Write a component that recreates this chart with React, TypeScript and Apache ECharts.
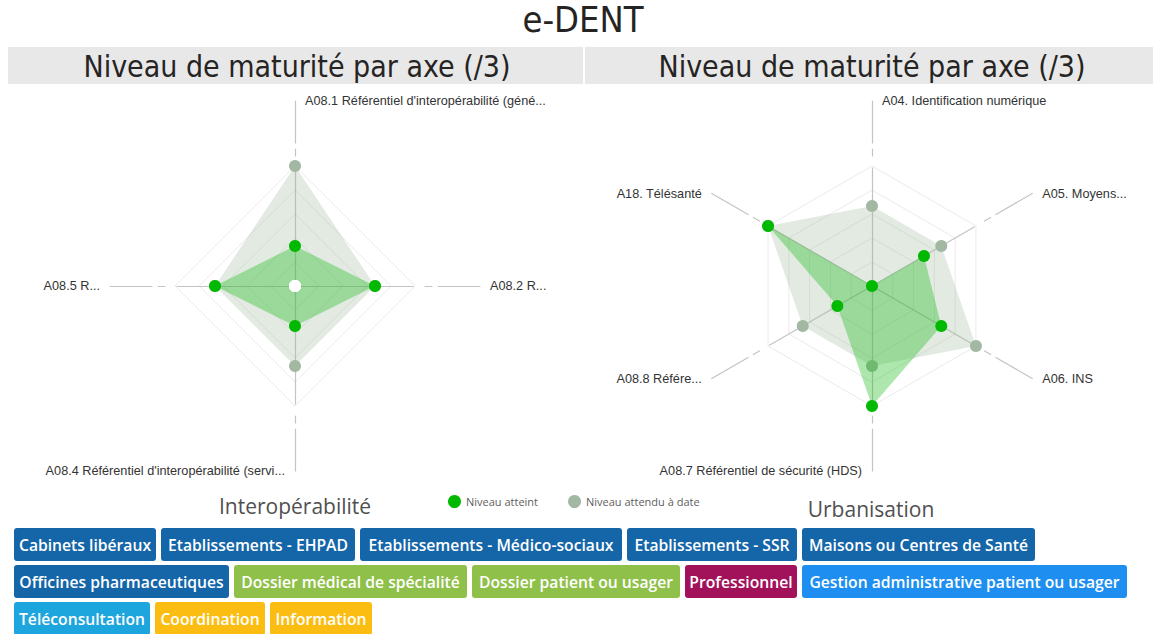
import React, { useEffect, useRef } from 'react';
import * as echarts from 'echarts';

// ---------- data ----------
const legendNames = ['Niveau atteint', 'Niveau attendu à date'];
const maxLevel = 3;

// Left radar (Interopérabilité) – indicators listed counter-clockwise from the top
const leftIndicators = [
  "A08.1 Référentiel d'interopérabilité (géné...",
  'A08.5 R...',
  "A08.4 Référentiel d'interopérabilité (servi...",
  'A08.2 R...',
];
const leftAtteint = [1, 2, 1, 2];
const leftAttendu = [3, 2, 2, 2];
const leftCentre = [0, 0, 0, 0];
const leftRightAligned = ['A08.5 R...', "A08.4 Référentiel d'interopérabilité (servi..."];

// Right radar (Urbanisation)
const rightIndicators = [
  'A04. Identification numérique',
  'A18. Télésanté',
  'A08.8 Référe...',
  'A08.7 Référentiel de sécurité (HDS)',
  'A06. INS',
  'A05. Moyens...',
];
const rightAtteint = [0, 3, 1, 3, 2, 1.5];
const rightAttendu = [2, 3, 2, 2, 3, 2];
const rightRightAligned = ['A18. Télésanté', 'A08.8 Référe...', 'A08.7 Référentiel de sécurité (HDS)'];

const mainTitle = 'e-DENT';
const panelTitle = 'Niveau de maturité par axe (/3)';
const leftCaption = 'Interopérabilité';
const rightCaption = 'Urbanisation';

const tagRows: [string, string][][] = [
  [
    ['Cabinets libéraux', 'structure'],
    ['Etablissements - EHPAD', 'structure'],
    ['Etablissements - Médico-sociaux', 'structure'],
    ['Etablissements - SSR', 'structure'],
    ['Maisons ou Centres de Santé', 'structure'],
  ],
  [
    ['Officines pharmaceutiques', 'structure'],
    ['Dossier médical de spécialité', 'dossier'],
    ['Dossier patient ou usager', 'dossier'],
    ['Professionnel', 'pro'],
    ['Gestion administrative patient ou usager', 'gestion'],
  ],
  [
    ['Téléconsultation', 'tele'],
    ['Coordination', 'coord'],
    ['Information', 'coord'],
  ],
];

// ---------- layout / style ----------
const tagColors: Record<string, string> = {
  structure: '#1565a9',
  dossier: '#8fc04a',
  pro: '#a1125b',
  gestion: '#1e8ff0',
  tele: '#1da5dd',
  coord: '#fbbd12',
};
const tagLayout: [number, number][][] = [
  [[14, 142], [161, 194], [360, 262], [627, 170], [802, 233]],
  [[14, 215], [234, 233], [472, 208], [685, 112], [802, 325]],
  [[14, 136], [155, 110], [270, 102]],
];
const tagRowY = [528, 565, 602];
const tagH = 33;

const condensed = '"DejaVu Sans Condensed", "Liberation Sans Narrow", "Roboto Condensed", Roboto, sans-serif';
const arial = '"Liberation Sans", Arial, sans-serif';
const segoe = '"Open Sans", "Noto Sans", sans-serif';

const GREEN = '#02b902';
const GREY = '#a2b8a2';

function radarsFor(center: number[], indicators: string[], rightAligned: string[]) {
  const ind = indicators.map((n) => ({ name: n, min: 0, max: maxLevel }));
  const nameBase = { color: '#333333', fontSize: 12.7, fontFamily: arial, verticalAlign: 'middle' };
  return [
    {
      center, radius: 120, startAngle: 90, splitNumber: 5, shape: 'polygon',
      indicator: ind,
      axisName: { show: false },
      axisLine: { show: false },
      axisTick: { show: false },
      axisLabel: { show: false },
      splitLine: { lineStyle: { color: '#ebebeb', width: 1 } },
      splitArea: { show: false },
    },
    {
      center, radius: 185, startAngle: 90, splitNumber: 1, shape: 'polygon',
      indicator: ind,
      nameGap: 0,
      axisName: {
        ...nameBase,
        align: 'left',
        padding: [0, 0, 0, 10],
        formatter: (name: string) => (rightAligned.includes(name) ? '' : name),
      },
      axisLine: { lineStyle: { color: '#c4c4c4', width: 1.2, type: [118, 12, 7, 6, 80, 40] } },
      axisTick: { show: false },
      axisLabel: { show: false },
      splitLine: { show: false },
      splitArea: { show: false },
    },
    {
      center, radius: 185, startAngle: 90, splitNumber: 1, shape: 'polygon',
      indicator: ind,
      nameGap: 0,
      axisName: {
        ...nameBase,
        align: 'right',
        padding: [0, 10, 0, 0],
        formatter: (name: string) => (rightAligned.includes(name) ? name : ''),
      },
      axisLine: { show: false },
      axisTick: { show: false },
      axisLabel: { show: false },
      splitLine: { show: false },
      splitArea: { show: false },
    },
  ];
}

function radarSeries(radarIndex: number, atteint: number[], attendu: number[]) {
  return [
    {
      type: 'radar', radarIndex, name: legendNames[1], z: 3,
      symbol: 'circle', symbolSize: 12,
      itemStyle: { color: GREY },
      lineStyle: { width: 0, opacity: 0 },
      areaStyle: { color: 'rgba(150,180,150,0.4)' },
      data: [{ name: legendNames[1], value: attendu }],
    },
    {
      type: 'radar', radarIndex, name: legendNames[0], z: 4,
      symbol: 'circle', symbolSize: 12,
      itemStyle: { color: GREEN },
      lineStyle: { width: 0, opacity: 0 },
      areaStyle: { color: 'rgba(20,185,20,0.5)' },
      data: [{ name: legendNames[0], value: atteint }],
    },
  ];
}

export default function App() {
  const ref = useRef<HTMLDivElement>(null);
  useEffect(() => {
    if (!ref.current) return;
    const chart = echarts.init(ref.current, null, { renderer: 'svg' });

    const tagGraphics: any[] = [];
    tagRows.forEach((row, r) => {
      row.forEach(([label, kind], i) => {
        const [x, w] = tagLayout[r][i];
        const y = tagRowY[r];
        tagGraphics.push({
          type: 'group',
          children: [
            { type: 'rect', shape: { x, y, width: w, height: tagH, r: 3 }, style: { fill: tagColors[kind] } },
            {
              type: 'text', x: x + w / 2, y: y + tagH / 2 + 0.5,
              style: {
                text: label, fill: '#ffffff', fontSize: 15.7, fontWeight: 600, fontFamily: segoe,
                align: 'center', verticalAlign: 'middle',
              },
            },
          ],
        });
      });
    });

    const option: any = {
      animation: false,
      backgroundColor: '#ffffff',
      title: [
        { text: mainTitle, left: 583, top: 1, textAlign: 'center', padding: 0,
          textStyle: { fontSize: 36, fontWeight: 'normal', color: '#252423', fontFamily: condensed } },
        { text: panelTitle, left: 297, top: 51, textAlign: 'center', padding: 0,
          textStyle: { fontSize: 30, fontWeight: 'normal', color: '#252423', fontFamily: condensed } },
        { text: panelTitle, left: 872, top: 51, textAlign: 'center', padding: 0,
          textStyle: { fontSize: 30, fontWeight: 'normal', color: '#252423', fontFamily: condensed } },
        { text: leftCaption, left: 295, top: 495, textAlign: 'center', padding: 0,
          textStyle: { fontSize: 21, fontWeight: 'normal', color: '#505050', fontFamily: segoe } },
        { text: rightCaption, left: 871, top: 498, textAlign: 'center', padding: 0,
          textStyle: { fontSize: 21, fontWeight: 'normal', color: '#505050', fontFamily: segoe } },
      ],
      legend: {
        data: legendNames, left: 443, top: 490, icon: 'circle', itemWidth: 13, itemHeight: 13, itemGap: 30,
        textStyle: { fontSize: 11, color: '#606060', fontFamily: segoe },
      },
      radar: [
        ...radarsFor([295, 286], leftIndicators, leftRightAligned),
        ...radarsFor([872, 286], rightIndicators, rightRightAligned),
      ],
      series: [
        ...radarSeries(0, leftAtteint, leftAttendu),
        {
          type: 'radar', radarIndex: 0, name: 'centre', z: 5,
          symbol: 'circle', symbolSize: 12,
          itemStyle: { color: '#ffffff' },
          lineStyle: { width: 0, opacity: 0 },
          data: [{ name: 'centre', value: leftCentre }],
          silent: true,
        },
        ...radarSeries(3, rightAtteint, rightAttendu),
      ],
      graphic: [
        { type: 'rect', z: -10, shape: { x: 8, y: 47, width: 575, height: 37 }, style: { fill: '#e8e8e8' } },
        { type: 'rect', z: -10, shape: { x: 585, y: 47, width: 568, height: 37 }, style: { fill: '#e8e8e8' } },
        ...tagGraphics,
      ],
    };
    chart.setOption(option);
    return () => chart.dispose();
  }, []);
  return <div ref={ref} style={{ position: 'absolute', left: 0, top: 0, width: 1153, height: 634 }} />;
}
